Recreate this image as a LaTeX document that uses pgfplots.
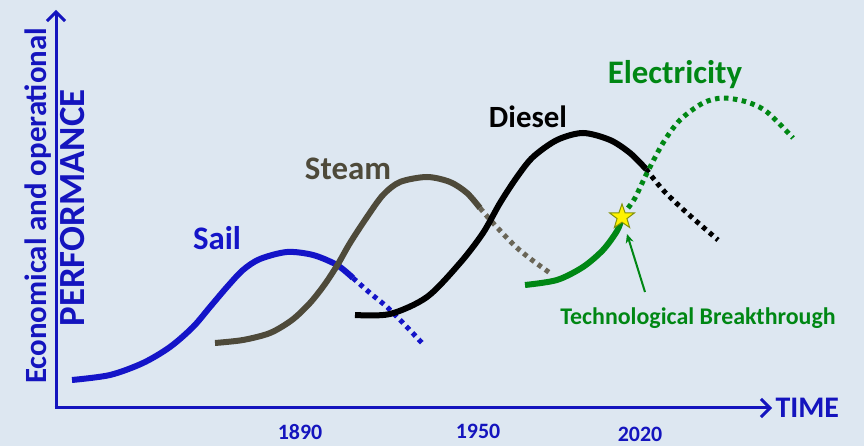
\documentclass[border=0pt]{standalone}
\usepackage{pgfplots}
\pgfplotsset{compat=1.18}
\usetikzlibrary{arrows.meta}
\usepackage{fontspec}
\setmainfont{Carlito}
\definecolor{bg}{RGB}{221,231,241}
\definecolor{sailblue}{RGB}{20,20,200}
\definecolor{axblue}{RGB}{20,20,190}
\definecolor{steamc}{RGB}{78,74,58}
\definecolor{elgreen}{RGB}{0,135,20}
\pgfdeclareplotmark{fstar}{%
 \pgfpathmoveto{\pgfqpoint{0pt}{\pgfplotmarksize}}%
 \pgfpathlineto{\pgfqpoint{-0.235\pgfplotmarksize}{0.324\pgfplotmarksize}}%
 \pgfpathlineto{\pgfqpoint{-0.951\pgfplotmarksize}{0.309\pgfplotmarksize}}%
 \pgfpathlineto{\pgfqpoint{-0.380\pgfplotmarksize}{-0.124\pgfplotmarksize}}%
 \pgfpathlineto{\pgfqpoint{-0.588\pgfplotmarksize}{-0.809\pgfplotmarksize}}%
 \pgfpathlineto{\pgfqpoint{0pt}{-0.4\pgfplotmarksize}}%
 \pgfpathlineto{\pgfqpoint{0.588\pgfplotmarksize}{-0.809\pgfplotmarksize}}%
 \pgfpathlineto{\pgfqpoint{0.380\pgfplotmarksize}{-0.124\pgfplotmarksize}}%
 \pgfpathlineto{\pgfqpoint{0.951\pgfplotmarksize}{0.309\pgfplotmarksize}}%
 \pgfpathlineto{\pgfqpoint{0.235\pgfplotmarksize}{0.324\pgfplotmarksize}}%
 \pgfpathclose
 \pgfusepathqfillstroke}
\begin{document}
\begin{tikzpicture}
\begin{axis}[width=864bp, height=446bp, scale only axis,
  xmin=0, xmax=864, ymin=0, ymax=446, hide axis, clip=false]
\fill[bg] (axis cs:0,0) rectangle (axis cs:864,446);
% axes
\draw[axblue, line width=3bp, -{Straight Barb[length=9bp,width=18bp,line width=3bp]}] (axis cs:56,38) -- (axis cs:56,436);
\draw[axblue, line width=3bp, -{Straight Barb[length=9bp,width=18bp,line width=3bp]}] (axis cs:54.5,38) -- (axis cs:772,38);
% Sail
\addplot[sailblue, line width=6bp, smooth] coordinates {(72,66)(110,71)(143,83)(170,99)(193,119)(210,139)(227,159)(243,176)(260,187)(287,194)(313,191)(337,181)(353,168)};
\addplot[sailblue, line width=5bp, smooth, dash pattern=on 4.5bp off 4.5bp] coordinates {(353,168)(370,153)(387,139)(405,121)(422,103)};
% Steam
\addplot[steamc, line width=6bp, smooth] coordinates {(215,103)(243,106)(270,113)(292,126)(310,143)(325,162)(338,182)(350,203)(367,229)(383,251)(400,264)(427,269)(450,264)(467,253)(480,238)};
\addplot[steamc!85, line width=5bp, smooth, dash pattern=on 4.5bp off 4.5bp] coordinates {(480,238)(493,223)(515,200)(532,186)(550,173)};
% Diesel
\addplot[black, line width=6bp, smooth] coordinates {(355,131)(390,132)(427,149)(460,183)(483,213)(500,243)(517,269)(533,289)(557,306)(583,313)(610,306)(630,293)(646,277)};
\addplot[black, line width=5bp, smooth, dash pattern=on 4.5bp off 4.5bp] coordinates {(646,277)(663,256)(687,233)(718,206)};
% Electricity
\addplot[elgreen, line width=6bp, smooth] coordinates {(525,161)(557,166)(583,179)(603,196)(617,215)(622,228)};
\addplot[elgreen, line width=5bp, smooth, dash pattern=on 4.5bp off 4.5bp] coordinates {(628,238)(635,248)(647,273)(663,303)(680,326)(703,343)(723,348)(747,344)(767,334)(793,308)};
\addplot[only marks, mark=fstar, mark size=13bp, mark options={fill=yellow, draw=olive!80!green, line width=1bp}] coordinates {(622,229)};
% annotation arrow
\draw[elgreen, line width=2bp, -{Stealth[length=9bp,width=8bp]}] (axis cs:645,154) -- (axis cs:627,212);
% labels
\node[font=\bfseries\fontsize{33}{33}\selectfont, text=elgreen] at (axis cs:675,371) {Electricity};
\node[font=\bfseries\fontsize{31}{31}\selectfont, text=black] at (axis cs:528,329) {Diesel};
\node[font=\bfseries\fontsize{33}{33}\selectfont, text=steamc] at (axis cs:348,277) {Steam};
\node[font=\bfseries\fontsize{33}{33}\selectfont, text=sailblue] at (axis cs:217,208) {Sail};
\node[font=\bfseries\fontsize{24}{24}\selectfont, text=elgreen] at (axis cs:698,128) {Technological Breakthrough};
\node[font=\bfseries\fontsize{30}{30}\selectfont, text=axblue, anchor=west] at (axis cs:772,38) {TIME};
\node[font=\bfseries\fontsize{22}{22}\selectfont, text=axblue] at (axis cs:300,14) {1890};
\node[font=\bfseries\fontsize{22}{22}\selectfont, text=axblue] at (axis cs:478,15) {1950};
\node[font=\bfseries\fontsize{22}{22}\selectfont, text=axblue] at (axis cs:640,12) {2020};
\node[font=\bfseries\fontsize{31}{31}\selectfont, text=axblue, rotate=90] at (axis cs:38,240) {Economical and operational};
\node[font=\bfseries\fontsize{37}{37}\selectfont, text=axblue, rotate=90] at (axis cs:73,238) {PERFORMANCE};
\end{axis}
\end{tikzpicture}
\end{document}
